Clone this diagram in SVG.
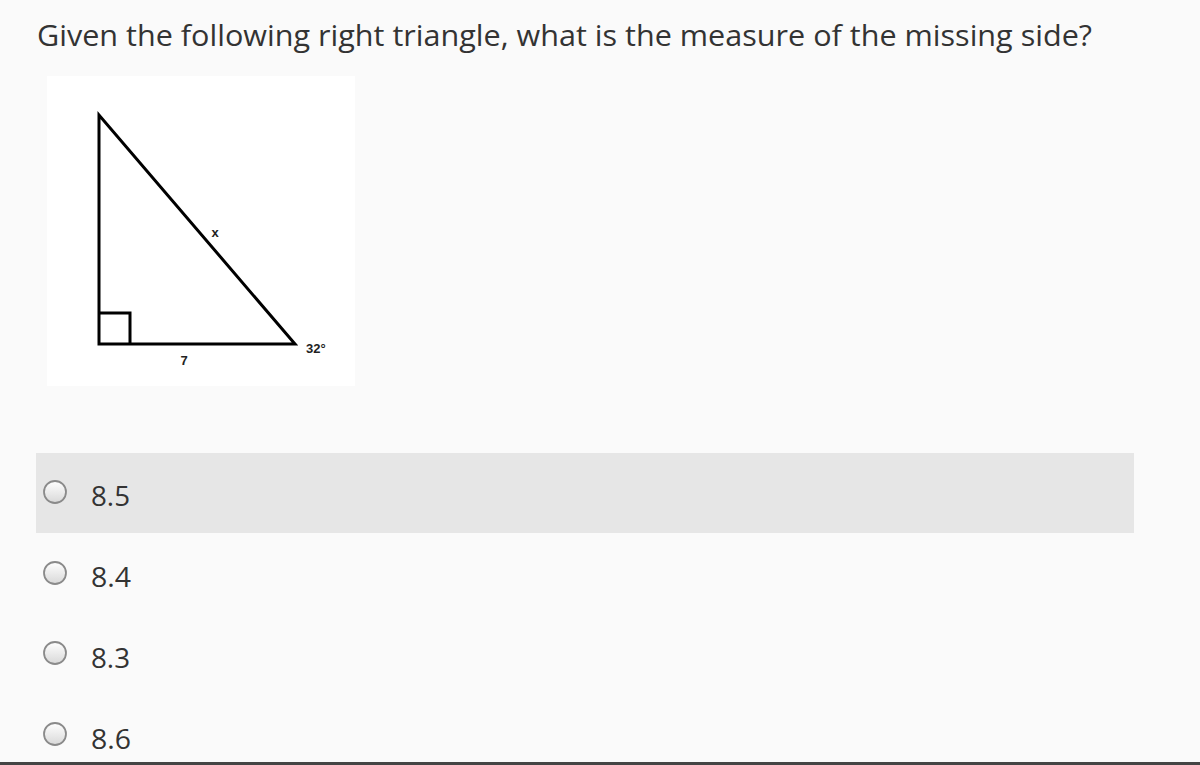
<svg xmlns="http://www.w3.org/2000/svg" width="1200" height="765" viewBox="0 0 1200 765">
<style>
.q{font-family:"Open Sans","Noto Sans",sans-serif;fill:#333}
.opt{font-family:"Open Sans","Noto Sans",sans-serif;font-size:28px;fill:#333}
.lbl{font-family:"Liberation Sans",Arial,sans-serif;font-weight:bold;font-size:13px;fill:#222}
.radio{fill:url(#rg);stroke:#8a8a8a;stroke-width:1.8}
.tri{fill:none;stroke:#000;stroke-width:3;stroke-linejoin:miter}
</style>
<defs>
<linearGradient id="rg" x1="0" y1="0" x2="0" y2="1">
<stop offset="0" stop-color="#ffffff"/>
<stop offset="1" stop-color="#d8d8d8"/>
</linearGradient>
</defs>
<rect x="0" y="0" width="1200" height="765" fill="#fafafa"/>
<text class="q" x="37" y="46" font-size="30" textLength="1055" lengthAdjust="spacingAndGlyphs">Given the following right triangle, what is the measure of the missing side?</text>
<g id="figure">
<rect x="47" y="76" width="308" height="310" fill="#ffffff"/>
<path class="tri" d="M99,115 L99,344 L295,344 Z"/>
<path class="tri" d="M99,313 L130,313 L130,344" stroke-width="2.5"/>
<text class="lbl" x="215" y="237" text-anchor="middle">x</text>
<text class="lbl" x="184" y="365" text-anchor="middle">7</text>
<text class="lbl" x="306" y="353">32°</text>
</g>
<g id="opt1">
<rect x="36" y="453" width="1098" height="80" fill="#e6e6e6"/>
<circle class="radio" cx="55" cy="492" r="11"/>
<text class="opt" x="91" y="506" textLength="39" lengthAdjust="spacingAndGlyphs">8.5</text>
</g>
<g id="opt2">
<circle class="radio" cx="55" cy="573" r="11"/>
<text class="opt" x="91" y="587" textLength="40" lengthAdjust="spacingAndGlyphs">8.4</text>
</g>
<g id="opt3">
<circle class="radio" cx="55" cy="653" r="11"/>
<text class="opt" x="91" y="668" textLength="39" lengthAdjust="spacingAndGlyphs">8.3</text>
</g>
<g id="opt4">
<circle class="radio" cx="55" cy="734" r="11"/>
<text class="opt" x="91" y="749" textLength="40" lengthAdjust="spacingAndGlyphs">8.6</text>
</g>
<rect x="0" y="762" width="1200" height="3" fill="#444"/>
</svg>
